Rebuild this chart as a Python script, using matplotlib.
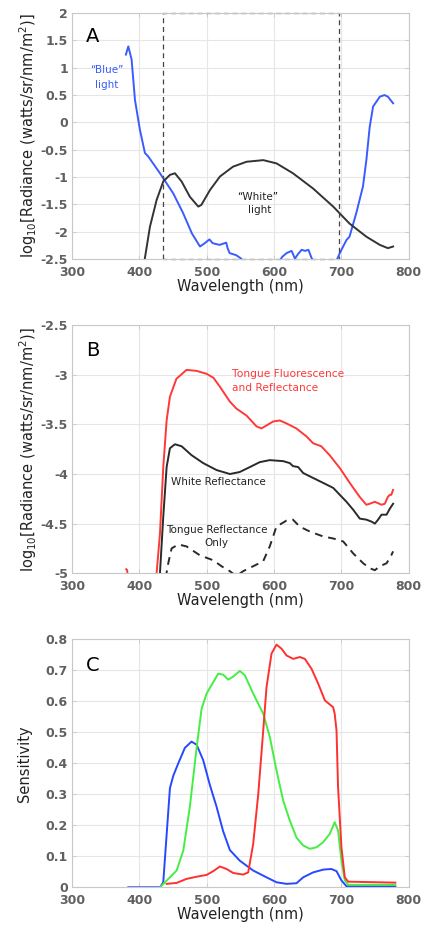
import numpy as np
import matplotlib
matplotlib.use("Agg")
import matplotlib.pyplot as plt

# ---- panel A : light sources ----
blue_a_x = [380, 383.6, 388.5, 393.5, 400.9, 408.3, 413, 430.6, 450.4, 465, 478, 490, 497, 504, 509,
            519, 529, 531, 534, 544, 551, 556, 600, 612, 618.6, 626, 631, 636, 641, 646, 651, 656,
            662, 690, 697.6, 707.5, 712, 722, 732, 737, 742, 747, 757, 764, 769, 776.7]
blue_a_y = [1.24, 1.39, 1.15, 0.41, -0.14, -0.56, -0.62, -0.93, -1.30, -1.66, -2.03, -2.27, -2.21, -2.14, -2.21,
            -2.24, -2.20, -2.30, -2.39, -2.43, -2.49, -2.6, -2.7, -2.46, -2.39, -2.35, -2.49, -2.40, -2.33, -2.35, -2.33, -2.49,
            -2.6, -2.6, -2.39, -2.15, -2.09, -1.66, -1.17, -0.69, -0.08, 0.29, 0.47, 0.50, 0.47, 0.35]
white_a_x = [400, 408, 415.7, 425.6, 435.5, 445.4, 452.8, 462.7, 475, 487.5, 492, 504.7, 519.6, 539, 559,
             584, 603.7, 628, 658, 687.8, 712, 737, 757, 769, 776.7]
white_a_y = [-3.0, -2.5, -1.91, -1.42, -1.08, -0.96, -0.93, -1.08, -1.36, -1.54, -1.51, -1.24, -0.99, -0.81, -0.72,
             -0.69, -0.75, -0.93, -1.21, -1.54, -1.85, -2.09, -2.24, -2.30, -2.27]
box_x = [435, 696]
box_y = [-2.5, 2]

# ---- panel B : tongue radiance ----
fluor_x = [380.5, 382, 384, 425.6, 430.6, 435.5, 440.5, 445.4, 455, 470, 485, 500, 510, 519.6, 534.4, 544,
           559, 574, 581.4, 588.8, 598.7, 608.6, 618.5, 633, 648, 658, 670, 682.5, 697.6, 712.4, 727,
           737, 742, 749.6, 759.5, 764.4, 769, 771.8, 774, 776.7]
fluor_y = [-4.96, -4.97, -5.3, -5.0, -4.6, -3.93, -3.46, -3.22, -3.04, -2.95, -2.96, -2.99, -3.03, -3.12, -3.27, -3.34,
           -3.41, -3.52, -3.54, -3.51, -3.47, -3.46, -3.49, -3.54, -3.62, -3.69, -3.72, -3.81, -3.94, -4.09, -4.23,
           -4.31, -4.30, -4.28, -4.31, -4.30, -4.23, -4.21, -4.21, -4.16]
whiteref_x = [429, 430.6, 435.5, 440.5, 445.4, 452.8, 462.7, 477.5, 494.8, 514.6, 534.4, 549, 564, 578.8, 593.6,
              613.4, 623.3, 628, 635.8, 643.2, 658, 673, 687.8, 697.6, 707.5, 717.4, 727.3, 737, 744.6, 749.6,
              754.5, 759.5, 767, 771.8, 776.7]
whiteref_y = [-5.3, -5.0, -4.43, -3.93, -3.74, -3.70, -3.72, -3.81, -3.89, -3.96, -4.00, -3.98, -3.93, -3.88, -3.86,
              -3.87, -3.89, -3.92, -3.93, -3.99, -4.04, -4.09, -4.14, -4.21, -4.28, -4.36, -4.45, -4.46, -4.48, -4.50,
              -4.46, -4.41, -4.41, -4.35, -4.30]
tongue_x = [439, 442.9, 447.9, 457.8, 470, 489.9, 509.7, 522, 534.4, 544, 554, 569, 583.8, 593.6, 603.5, 618.4,
            628, 638, 653, 673, 687.8, 702.6, 717.4, 732.3, 742, 749.6, 757, 767, 774, 776.7]
tongue_y = [-5.05, -4.90, -4.75, -4.71, -4.73, -4.82, -4.87, -4.93, -4.98, -5.03, -4.98, -4.93, -4.88, -4.73, -4.53, -4.47,
            -4.46, -4.53, -4.58, -4.63, -4.65, -4.68, -4.80, -4.90, -4.95, -4.97, -4.93, -4.90, -4.82, -4.78]

# ---- panel C : camera sensitivity ----
sb_x = [383.6, 430.6, 435.5, 440.5, 445.4, 450.4, 457.8, 467.6, 477.5, 485, 494.8, 504.7, 514.6, 524.5, 534.4, 549,
        569, 588.8, 603.7, 618.5, 633.3, 643.2, 658, 673, 685, 692.7, 700, 707.6, 780]
sb_y = [0, 0, 0.016, 0.17, 0.32, 0.36, 0.40, 0.45, 0.47, 0.46, 0.41, 0.33, 0.26, 0.18, 0.12, 0.086,
        0.054, 0.032, 0.016, 0.011, 0.013, 0.032, 0.048, 0.057, 0.059, 0.052, 0.022, 0.003, 0.003]
sg_x = [430.6, 438, 445.4, 455.3, 465.2, 475, 485, 492.4, 499.8, 509.7, 517, 524.5, 531.9, 539.4, 549.2, 556.7,
        569, 583.9, 593.7, 603.6, 613.5, 623.4, 633.3, 643.2, 653, 663, 672.7, 682.6, 690, 695, 700, 705, 710, 780]
sg_y = [0, 0.016, 0.032, 0.054, 0.118, 0.26, 0.45, 0.576, 0.625, 0.662, 0.689, 0.686, 0.67, 0.68, 0.698, 0.684,
        0.625, 0.56, 0.485, 0.377, 0.28, 0.215, 0.16, 0.135, 0.124, 0.129, 0.145, 0.172, 0.21, 0.183, 0.086, 0.022, 0.008, 0.008]
sr_x = [440.5, 455.3, 470, 485, 500, 509.7, 519.6, 529.5, 539.4, 554.2, 561.6, 569, 576.5, 583.9, 588.8, 596.2,
        603.6, 611, 618.5, 628.4, 638.3, 645.7, 655.6, 665.5, 675.4, 687.7, 690, 692.7, 695, 700, 705, 710, 780]
sr_y = [0.011, 0.014, 0.027, 0.034, 0.04, 0.052, 0.067, 0.059, 0.046, 0.041, 0.048, 0.14, 0.30, 0.506, 0.646, 0.754,
        0.783, 0.77, 0.748, 0.737, 0.743, 0.737, 0.705, 0.657, 0.603, 0.581, 0.56, 0.506, 0.323, 0.129, 0.032, 0.018, 0.015]

ylab = r'log$_{10}$[Radiance (watts/sr/nm/m$^2$)]'

fig = plt.figure(figsize=(4.21, 9.32), dpi=100)
axA = fig.add_axes([0.171, 0.722, 0.800, 0.264])
axB = fig.add_axes([0.171, 0.385, 0.800, 0.266])
axC = fig.add_axes([0.171, 0.048, 0.800, 0.266])


def style(ax):
    ax.set_xlim(300, 800)
    ax.set_xticks([300, 400, 500, 600, 700, 800])
    ax.grid(True, color='#e6e6e6', lw=0.8)
    ax.set_axisbelow(True)
    for s in ax.spines.values():
        s.set_color('#c8c8c8')
        s.set_linewidth(0.8)
    ax.tick_params(direction='in', length=3, width=0.6, color='#c8c8c8',
                   labelcolor='#606060', labelsize=9, top=True, right=True)
    ax.tick_params(axis='x', pad=5)
    ax.tick_params(axis='y', pad=3)
    for t in ax.get_xticklabels() + ax.get_yticklabels():
        t.set_fontweight('bold')
    ax.set_xlabel('Wavelength (nm)', fontsize=10.5, color='#222222', labelpad=0)


# A
axA.plot(blue_a_x, blue_a_y, color='#3a5cff', lw=1.4)
axA.plot(white_a_x, white_a_y, color='#333333', lw=1.4)
axA.plot([box_x[0], box_x[0], box_x[1], box_x[1], box_x[0]],
         [box_y[0], box_y[1], box_y[1], box_y[0], box_y[0]],
         color='#444444', lw=0.9, ls=(0, (4, 3)), clip_on=False)
axA.set_ylim(-2.5, 2)
axA.set_yticks(np.arange(-2.5, 2.01, 0.5))
axA.set_yticklabels(['-2.5', '-2', '-1.5', '-1', '-0.5', '0', '0.5', '1', '1.5', '2'])
style(axA)
axA.set_ylabel(ylab, fontsize=10.5, color='#222222', labelpad=1)
axA.text(320, 1.57, 'A', fontsize=14, va='center', ha='left')
axA.text(351, 0.95, '\u201cBlue\u201d', color='#3a5cff', fontsize=7.5, ha='center', va='center')
axA.text(351, 0.69, 'light', color='#3a5cff', fontsize=7.5, ha='center', va='center')
axA.text(576, -1.36, '\u201cWhite\u201d', color='#222222', fontsize=7.5, ha='center', va='center')
axA.text(578, -1.61, 'light', color='#222222', fontsize=7.5, ha='center', va='center')

# B
axB.plot(fluor_x, fluor_y, color='#ff3838', lw=1.4)
axB.plot(whiteref_x, whiteref_y, color='#2a2a2a', lw=1.4)
axB.plot(tongue_x, tongue_y, color='#2a2a2a', lw=1.4, ls=(0, (4, 3)))
axB.set_ylim(-5, -2.5)
axB.set_yticks([-5, -4.5, -4, -3.5, -3, -2.5])
axB.set_yticklabels(['-5', '-4.5', '-4', '-3.5', '-3', '-2.5'])
style(axB)
axB.set_ylabel(ylab, fontsize=10.5, color='#222222', labelpad=1)
axB.text(321, -2.75, 'B', fontsize=14, va='center', ha='left')
axB.text(537, -2.99, 'Tongue Fluorescence', color='#ff3838', fontsize=7.7, ha='left', va='center')
axB.text(537, -3.13, 'and Reflectance', color='#ff3838', fontsize=7.7, ha='left', va='center')
axB.text(517, -4.08, 'White Reflectance', color='#222222', fontsize=7.5, ha='center', va='center')
axB.text(515, -4.56, 'Tongue Reflectance', color='#222222', fontsize=7.5, ha='center', va='center')
axB.text(514, -4.70, 'Only', color='#222222', fontsize=7.5, ha='center', va='center')

# C
axC.plot(sb_x, sb_y, color='#2848ff', lw=1.4)
axC.plot(sg_x, sg_y, color='#44ee44', lw=1.4)
axC.plot(sr_x, sr_y, color='#ff3030', lw=1.4)
axC.set_ylim(0, 0.8)
axC.set_yticks(np.arange(0, 0.81, 0.1))
axC.set_yticklabels(['0', '0.1', '0.2', '0.3', '0.4', '0.5', '0.6', '0.7', '0.8'])
style(axC)
axC.set_ylabel('Sensitivity', fontsize=10.5, color='#222222', labelpad=10)
axC.text(321, 0.715, 'C', fontsize=14, va='center', ha='left')

fig.savefig('out.png', dpi=100)
